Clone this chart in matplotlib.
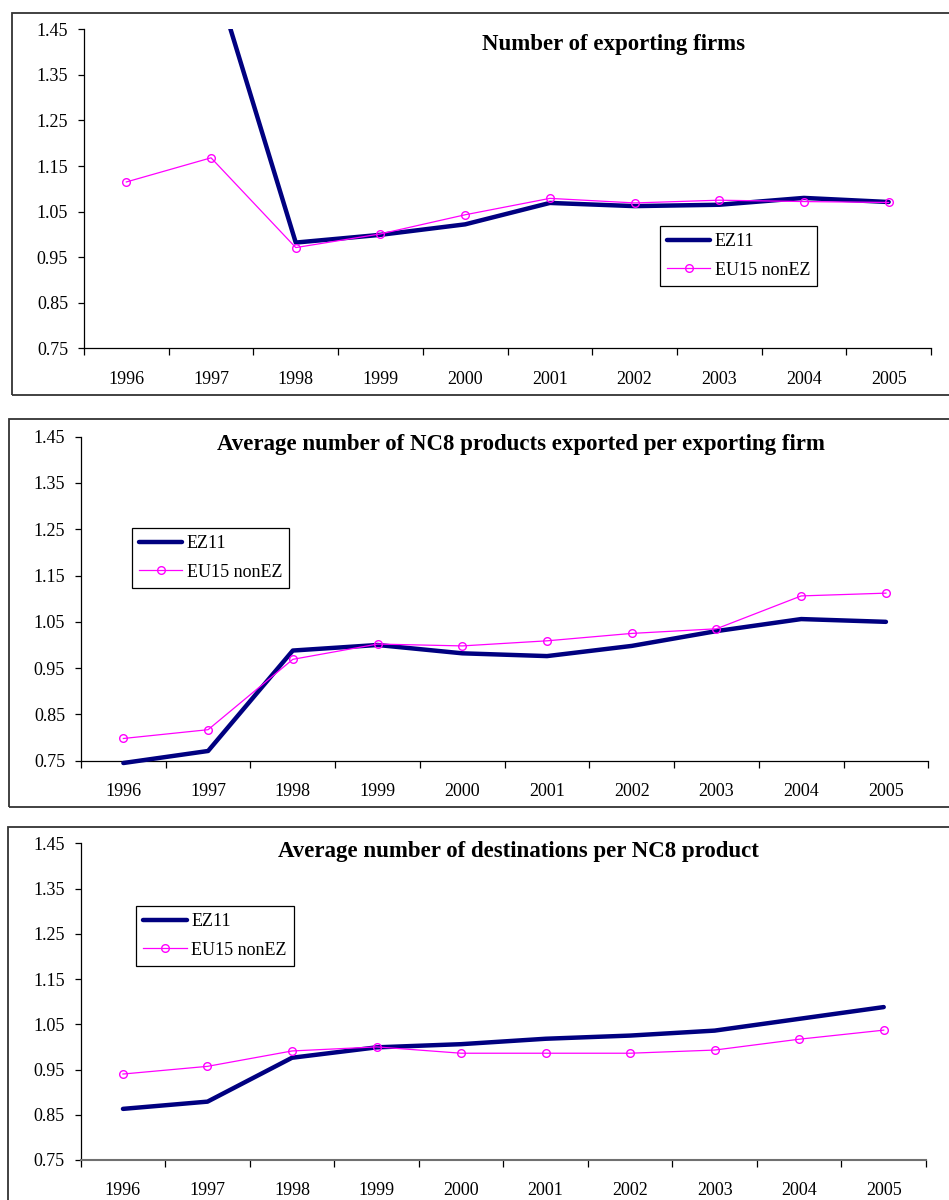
import matplotlib
matplotlib.use("Agg")
import matplotlib.pyplot as plt
from matplotlib.patches import Rectangle
from matplotlib.ticker import FixedLocator, FormatStrFormatter
import numpy as np

plt.rcParams["font.family"] = ["Liberation Serif", "DejaVu Serif"]

YEARS = ["1996", "1997", "1998", "1999", "2000", "2001", "2002", "2003", "2004", "2005"]
SERIES_NAMES = ["EZ11", "EU15 nonEZ"]

TITLES = [
    "Number of exporting firms",
    "Average number of NC8 products exported per exporting firm",
    "Average number of destinations per NC8 product",
]

# index values, 1999 = 1
FIRMS_EZ11 = [1.75, 1.59, 0.982, 0.999, 1.022, 1.069, 1.062, 1.065, 1.080, 1.071]
FIRMS_EU15 = [1.115, 1.168, 0.971, 1.001, 1.043, 1.079, 1.069, 1.075, 1.072, 1.070]

PRODUCTS_EZ11 = [0.745, 0.771, 0.988, 1.000, 0.982, 0.976, 0.998, 1.030, 1.056, 1.050]
PRODUCTS_EU15 = [0.798, 0.817, 0.969, 1.002, 0.998, 1.009, 1.025, 1.035, 1.106, 1.112]

DEST_EZ11 = [0.863, 0.879, 0.976, 0.999, 1.006, 1.018, 1.025, 1.036, 1.062, 1.088]
DEST_EU15 = [0.940, 0.957, 0.991, 1.000, 0.986, 0.986, 0.986, 0.993, 1.017, 1.037]

Y_TICKS = [0.75, 0.85, 0.95, 1.05, 1.15, 1.25, 1.35, 1.45]

W, H = 949, 1200

# pixel layout of each panel: frame box, plot area, title baseline, legend top-left
PANELS = [
    dict(frame=(12, 13, 960, 394.7), plot=(84, 29.3, 931, 348.3),
         title=(614, 50), legend=(659.7, 225.7), ez=FIRMS_EZ11, eu=FIRMS_EU15),
    dict(frame=(8.7, 419.3, 960, 806.7), plot=(81, 436.7, 928.3, 760.7),
         title=(521, 450), legend=(131.7, 527.7), ez=PRODUCTS_EZ11, eu=PRODUCTS_EU15),
    dict(frame=(8.3, 827.3, 960, 1260), plot=(80.7, 843.3, 926, 1160),
         title=(518.7, 856.7), legend=(136, 905.7), ez=DEST_EZ11, eu=DEST_EU15),
]


def fx(x):
    return x / W


def fy(y):
    return 1 - y / H


def draw_panel(fig, p, i):
    x0, y0, x1, y1 = p["frame"]
    fig.patches.append(Rectangle((fx(x0), fy(y1)), fx(x1 - x0), (y1 - y0) / H,
                                 transform=fig.transFigure, fill=False,
                                 edgecolor="#333333", linewidth=1.3))

    l, t, r, b = p["plot"]
    ax = fig.add_axes([fx(l), fy(b), fx(r - l), (b - t) / H])

    x = np.arange(len(YEARS))
    clip = max(p["ez"] + p["eu"]) > Y_TICKS[-1]
    ax.plot(x, p["ez"], color="#000080", linewidth=3.2, solid_joinstyle="round",
            solid_capstyle="round", label=SERIES_NAMES[0], clip_on=clip, zorder=3)
    ax.plot(x, p["eu"], color="#FF00FF", linewidth=0.9, marker="o", markersize=5.5,
            markerfacecolor="none", markeredgewidth=1.0, label=SERIES_NAMES[1],
            clip_on=clip, zorder=4)

    ax.set_xlim(-0.5, len(YEARS) - 0.5)
    ax.set_ylim(Y_TICKS[0], Y_TICKS[-1])
    ax.set_yticks(Y_TICKS)
    ax.yaxis.set_major_formatter(FormatStrFormatter("%.2f"))

    ax.xaxis.set_major_locator(FixedLocator(np.arange(-0.5, len(YEARS), 1.0)))
    ax.xaxis.set_minor_locator(FixedLocator(x))
    ax.set_xticklabels([], minor=False)
    ax.set_xticklabels(YEARS, minor=True)
    ax.tick_params(axis="x", which="major", direction="out", length=5, width=0.9)
    ax.tick_params(axis="x", which="minor", length=0, pad=16, labelsize=13)
    ax.tick_params(axis="y", direction="out", length=4.5, width=0.9, pad=7, labelsize=13)

    for side in ["top", "right"]:
        ax.spines[side].set_visible(False)
    for side in ["left", "bottom"]:
        ax.spines[side].set_linewidth(0.9)
    if i == 2:
        ax.spines["bottom"].set_color("#707070")
        ax.spines["bottom"].set_linewidth(1.5)

    tx, ty = p["title"]
    fig.text(fx(tx), fy(ty), TITLES[i], ha="center", va="baseline",
             fontsize=16.5, fontweight="bold")

    lx, ly = p["legend"]
    leg = ax.legend(loc="upper left", bbox_to_anchor=(fx(lx), fy(ly)),
                    bbox_transform=fig.transFigure, borderaxespad=0,
                    fontsize=13, handlelength=2.4, handletextpad=0.25,
                    labelspacing=0.65, borderpad=0.4, fancybox=False,
                    framealpha=1, edgecolor="black")
    leg.get_frame().set_linewidth(0.9)
    return ax


def main():
    fig = plt.figure(figsize=(W / 100, H / 100), dpi=100)
    for i, p in enumerate(PANELS):
        draw_panel(fig, p, i)
    fig.savefig("out.png", dpi=100)
    plt.close(fig)


if __name__ == "__main__":
    main()
